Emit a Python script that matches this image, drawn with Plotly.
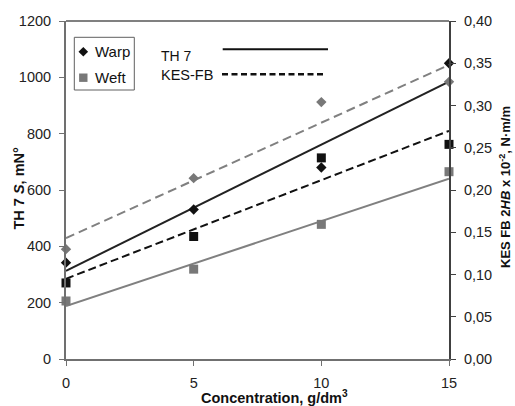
import plotly.graph_objects as go

# Data
conc = [0, 5, 10, 15]
th7_warp = [342, 531, 680, 1050]        # black diamonds (left axis, mN)
th7_weft = [206, 319, 478, 665]         # gray squares (left axis, mN)
kes_warp = [0.130, 0.214, 0.304, 0.328] # gray diamonds (right axis)
kes_weft = [0.090, 0.145, 0.238, 0.254] # black squares (right axis)

line_x = [0, 15]
th7_warp_fit = [313, 985]
th7_weft_fit = [188, 640]
kes_warp_fit = [0.143, 0.348]
kes_weft_fit = [0.095, 0.270]

left_ticks = [0, 200, 400, 600, 800, 1000, 1200]
right_ticks = [0.0, 0.05, 0.10, 0.15, 0.20, 0.25, 0.30, 0.35, 0.40]
right_labels = ["0,00", "0,05", "0,10", "0,15", "0,20", "0,25", "0,30", "0,35", "0,40"]
x_ticks = [0, 5, 10, 15]

BLACK = "#111111"
GRAY = "#787878"
FONT = "Liberation Sans, Arial, sans-serif"

# plot-area geometry (pixels)
L, R, T, B = 66, 449, 21, 359
W, H = 515, 406


def px(x):
    return (x - L) / (R - L)


def py(y):
    return (B - y) / (B - T)


fig = go.Figure()

# fit lines
fig.add_trace(go.Scatter(x=line_x, y=th7_warp_fit, mode="lines",
                         line=dict(color="#222222", width=2), showlegend=False))
fig.add_trace(go.Scatter(x=line_x, y=th7_weft_fit, mode="lines",
                         line=dict(color="#808080", width=2), showlegend=False))
fig.add_trace(go.Scatter(x=line_x, y=kes_warp_fit, mode="lines", yaxis="y2",
                         line=dict(color="#808080", width=2, dash="9px,5px"), showlegend=False))
fig.add_trace(go.Scatter(x=line_x, y=kes_weft_fit, mode="lines", yaxis="y2",
                         line=dict(color="#111111", width=2, dash="8px,4px"), showlegend=False))

# markers
fig.add_trace(go.Scatter(x=conc, y=kes_warp, mode="markers", yaxis="y2",
                         marker=dict(symbol="diamond", size=8, color=GRAY),
                         showlegend=False, cliponaxis=False))
fig.add_trace(go.Scatter(x=conc, y=th7_weft, mode="markers",
                         marker=dict(symbol="square", size=9, color=GRAY),
                         showlegend=False, cliponaxis=False))
fig.add_trace(go.Scatter(x=conc, y=kes_weft, mode="markers", yaxis="y2",
                         marker=dict(symbol="square", size=9, color=BLACK),
                         showlegend=False, cliponaxis=False))
fig.add_trace(go.Scatter(x=conc, y=th7_warp, mode="markers",
                         marker=dict(symbol="diamond", size=8, color=BLACK),
                         showlegend=False, cliponaxis=False))

tick_font = dict(family=FONT, size=14.5, color="#222222")

# legend box (Warp / Weft) drawn by hand
bx0, bx1, by0, by1 = 74.3, 134.3, 37.3, 90.0
dcx, dcy, dr = 83.3, 51.7, 4.8
scx, scy, sr = 83.3, 77.7, 4.2
diamond_path = (f"M {px(dcx)},{py(dcy - dr)} L {px(dcx + dr)},{py(dcy)} "
                f"L {px(dcx)},{py(dcy + dr)} L {px(dcx - dr)},{py(dcy)} Z")

shapes = [
    dict(type="line", xref="paper", yref="paper", x0=0, x1=1, y0=1, y1=1,
         line=dict(color="#808080", width=2)),
    dict(type="rect", xref="paper", yref="paper", x0=px(bx0), x1=px(bx1),
         y0=py(by1), y1=py(by0), line=dict(color="#606060", width=1),
         fillcolor="white", layer="above"),
    dict(type="path", xref="paper", yref="paper", path=diamond_path,
         fillcolor=BLACK, line=dict(width=0), layer="above"),
    dict(type="rect", xref="paper", yref="paper", x0=px(scx - sr), x1=px(scx + sr),
         y0=py(scy + sr), y1=py(scy - sr), fillcolor=GRAY, line=dict(width=0),
         layer="above"),
    # line-style key
    dict(type="line", xref="paper", yref="paper", x0=px(222.7), x1=px(328),
         y0=py(49.3), y1=py(49.3), line=dict(color="#111111", width=2)),
    dict(type="line", xref="paper", yref="paper", x0=px(222), x1=px(326),
         y0=py(74.3), y1=py(74.3), line=dict(color="#111111", width=2.5, dash="6px,3.5px")),
]

annotations = [
    dict(text="Warp", xref="paper", yref="paper", x=px(93), y=py(51.7),
         xanchor="left", yanchor="middle", showarrow=False,
         font=dict(family=FONT, size=15, color="#111111")),
    dict(text="Weft", xref="paper", yref="paper", x=px(93), y=py(77.7),
         xanchor="left", yanchor="middle", showarrow=False,
         font=dict(family=FONT, size=15, color="#111111")),
    dict(text="TH 7", xref="paper", yref="paper", x=px(159), y=py(55.5),
         xanchor="left", yanchor="middle", showarrow=False,
         font=dict(family=FONT, size=14, color="#111111")),
    dict(text="KES-FB", xref="paper", yref="paper", x=px(159), y=py(75),
         xanchor="left", yanchor="middle", showarrow=False,
         font=dict(family=FONT, size=14.5, color="#111111")),
    # axis titles
    dict(text="<b>Concentration, g/dm<sup>3</sup></b>", xref="paper", yref="paper",
         x=px(274), y=py(397), xanchor="center", yanchor="middle", showarrow=False,
         font=dict(family=FONT, size=14.5, color="#111111")),
    dict(text="<b>TH 7 <i>S</i>, mN°</b>", xref="paper", yref="paper",
         x=px(18.5), y=py(188), xanchor="center", yanchor="middle", showarrow=False,
         textangle=-90, font=dict(family=FONT, size=14.5, color="#111111")),
    dict(text="<b>KES FB 2<i>HB</i> x 10<sup>-2</sup>, N·m/m</b>", xref="paper", yref="paper",
         x=px(505), y=py(187), xanchor="center", yanchor="middle", showarrow=False,
         textangle=-90, font=dict(family=FONT, size=13, color="#111111")),
]

fig.update_layout(
    width=W, height=H,
    margin=dict(l=L, r=W - R, t=T, b=H - B),
    paper_bgcolor="white", plot_bgcolor="white",
    font=dict(family=FONT, size=13, color="#222222"),
    showlegend=False,
    xaxis=dict(range=[0, 15], tickvals=x_ticks, ticks="outside", ticklen=5,
               tickcolor="#707070", showgrid=False, zeroline=False,
               showline=True, linecolor="#707070", linewidth=2,
               tickfont=tick_font, ticklabelstandoff=5),
    yaxis=dict(range=[0, 1200], tickvals=left_ticks, ticks="outside", ticklen=5,
               tickcolor="#707070", showgrid=False, zeroline=False,
               showline=True, linecolor="#707070", linewidth=2,
               tickfont=tick_font, ticklabelstandoff=5),
    yaxis2=dict(range=[0, 0.4], tickvals=right_ticks, ticktext=right_labels,
                overlaying="y", side="right", anchor="x",
                ticks="outside", ticklen=5, tickcolor="#404040",
                showgrid=False, zeroline=False,
                showline=True, linecolor="#404040", linewidth=2,
                tickfont=tick_font, ticklabelstandoff=5),
    shapes=shapes,
    annotations=annotations,
)

fig.write_html("out.html")
